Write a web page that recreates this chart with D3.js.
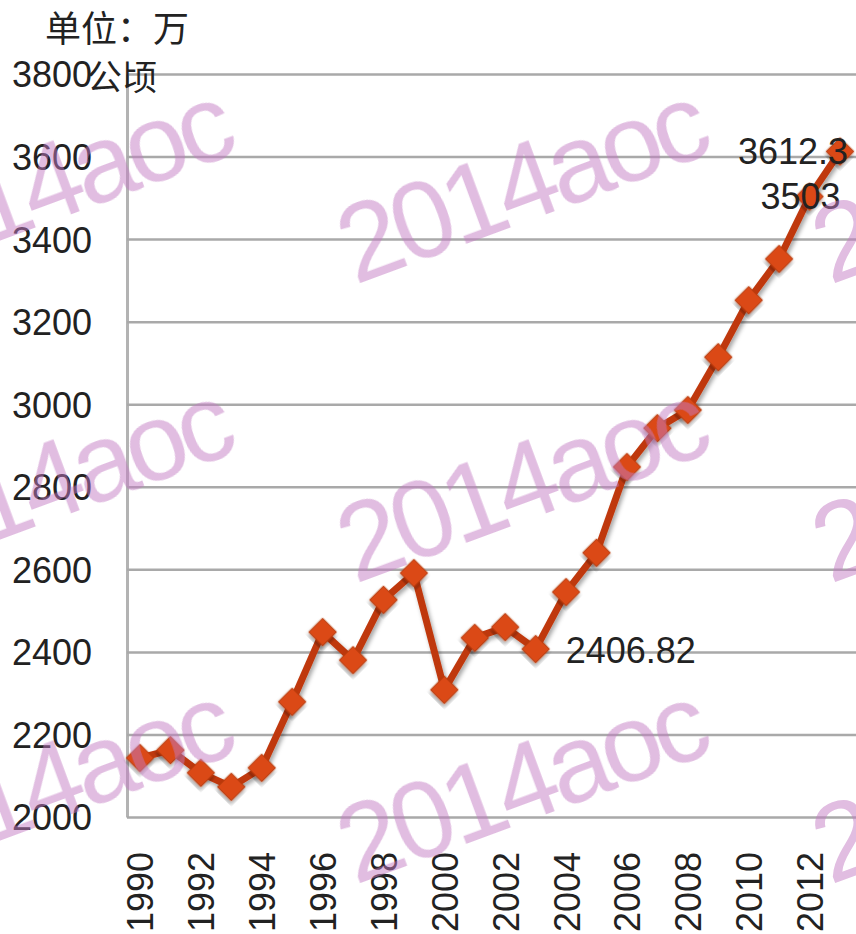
<!DOCTYPE html>
<html>
<head>
<meta charset="utf-8">
<script src="https://cdn.jsdelivr.net/npm/d3@7"></script>
<style>
    body { margin: 0; background: #fff; }
    svg { display: block; }
    .tick text { font-family: "Liberation Sans", Arial, sans-serif; font-size: 36px; fill: #222; }
</style>
</head>
<body>
<svg id="chart" width="856" height="934"></svg>
<script>
const YEARS = [1990, 1991, 1992, 1993, 1994, 1995, 1996, 1997, 1998, 1999, 2000, 2001,
    2002, 2003, 2004, 2005, 2006, 2007, 2008, 2009, 2010, 2011, 2012, 2013];
const AREA = [2143, 2162, 2107, 2073, 2119, 2279, 2448, 2380, 2526, 2591, 2308, 2434,
    2460, 2406.82, 2545, 2640, 2848, 2942, 2986, 3114, 3252, 3352, 3503, 3612.3];
const Y_TICKS = [2000, 2200, 2400, 2600, 2800, 3000, 3200, 3400, 3600, 3800];
const X_TICKS = [1990, 1992, 1994, 1996, 1998, 2000, 2002, 2004, 2006, 2008, 2010, 2012];
const LABELLED_YEARS = [2003, 2012, 2013];
const UNIT_LINES = ['单位：万', '公顷'];
const WATERMARK = '2014aoc';

const WIDTH = 856;
const PLOT_LEFT = 127;
const PLOT_TOP = 74;
const PLOT_BOTTOM = 817;

const LINE_COLOUR = '#bf390d';
const MARKER_COLOUR = '#db4a18';

const svg = d3.select('#chart');

const x = d3.scalePoint().domain(YEARS).range([140, 840]);
const y = d3.scaleLinear().domain([2000, 3800]).range([PLOT_BOTTOM, PLOT_TOP]);

const defs = svg.append('defs');
defs.append('filter')
    .attr('id', 'shadow')
    .attr('x', '-20%').attr('y', '-20%').attr('width', '140%').attr('height', '140%')
    .append('feDropShadow')
    .attr('dx', 2).attr('dy', 3).attr('stdDeviation', 2)
    .attr('flood-color', '#000').attr('flood-opacity', 0.35);

// y axis: labels + horizontal gridlines
const yAxis = svg.append('g')
    .attr('transform', `translate(${PLOT_LEFT},0)`)
    .call(d3.axisLeft(y)
        .tickValues(Y_TICKS)
        .tickSizeInner(-(WIDTH - PLOT_LEFT))
        .tickSizeOuter(0)
        .tickPadding(35)
        .tickFormat(d3.format('d')));
yAxis.selectAll('.tick line').attr('stroke', '#a9a9a9').attr('stroke-width', 2.5);
yAxis.select('.domain').attr('stroke', '#b3b3b3').attr('stroke-width', 3);
yAxis.selectAll('.tick text').attr('dy', '0.36em');

// x axis: rotated year labels
const xAxis = svg.append('g')
    .attr('transform', `translate(0,${PLOT_BOTTOM})`)
    .call(d3.axisBottom(x).tickValues(X_TICKS).tickSize(0).tickPadding(0));
xAxis.select('.domain').remove();
xAxis.selectAll('.tick text')
    .attr('transform', 'rotate(-90)')
    .attr('text-anchor', 'end')
    .attr('x', -35)
    .attr('y', 0)
    .attr('dy', '0.36em');

// unit text
svg.append('text')
    .attr('x', 45).attr('y', 42)
    .style('font-family', '"Noto Sans CJK SC", sans-serif')
    .style('font-size', '36px')
    .style('fill', '#222')
    .text(UNIT_LINES[0]);
svg.append('text')
    .attr('x', 87).attr('y', 90)
    .style('font-family', '"Noto Sans CJK SC", sans-serif')
    .style('font-size', '35px')
    .style('fill', '#222')
    .text(UNIT_LINES[1]);

const points = YEARS.map((yr, i) => ({ year: yr, value: AREA[i] }));

const line = d3.line()
    .x(d => x(d.year))
    .y(d => y(d.value));

svg.append('path')
    .datum(points)
    .attr('d', line)
    .attr('fill', 'none')
    .attr('stroke', LINE_COLOUR)
    .attr('stroke-width', 7)
    .attr('stroke-linejoin', 'round')
    .attr('filter', 'url(#shadow)');

svg.append('g')
    .selectAll('path')
    .data(points)
    .join('path')
    .attr('d', d3.symbol(d3.symbolSquare, 380))
    .attr('transform', d => `translate(${x(d.year)},${y(d.value)}) rotate(45)`)
    .attr('fill', MARKER_COLOUR)
    .attr('stroke', '#b83a0c')
    .attr('stroke-width', 1)
    .attr('filter', 'url(#shadow)');

// data labels (hand-placed like the original)
const labelPlacement = {
    2003: { dx: 30, dy: 14, anchor: 'start' },
    2012: { dx: 31, dy: 12, anchor: 'end' },
    2013: { dx: 8, dy: 13, anchor: 'end' }
};
svg.append('g')
    .selectAll('text')
    .data(points.filter(d => LABELLED_YEARS.includes(d.year)))
    .join('text')
    .attr('x', d => x(d.year) + labelPlacement[d.year].dx)
    .attr('y', d => y(d.value) + labelPlacement[d.year].dy)
    .attr('text-anchor', d => labelPlacement[d.year].anchor)
    .style('font-family', '"Liberation Sans", Arial, sans-serif')
    .style('font-size', '36px')
    .style('fill', '#222')
    .text(d => d.value);

// watermark tiles
const wmCols = [-120, 355, 830];
const wmRows = [285, 584, 885];
const wm = svg.append('g').attr('opacity', 0.5);
wmRows.forEach(ry => {
    wmCols.forEach(cx => {
        wm.append('text')
            .attr('transform', `translate(${cx},${ry}) rotate(-20.3)`)
            .style('font-family', '"Liberation Sans", Arial, sans-serif')
            .style('font-size', '110px')
            .style('letter-spacing', '-6px')
            .style('fill', '#c27ac2')
            .text(WATERMARK);
    });
});
</script>
</body>
</html>
